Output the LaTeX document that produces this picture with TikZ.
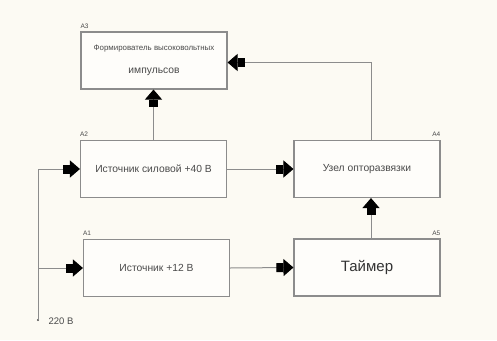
\documentclass[tikz,border=0pt]{standalone}
\usepackage{fontspec}
\setmainfont{Liberation Sans}
\usetikzlibrary{arrows.meta}
\definecolor{paper}{HTML}{FCFAF3}
\definecolor{edge}{HTML}{8C8C8C}
\definecolor{ink}{HTML}{4A4A4A}
\tikzset{
  blok/.style={draw=edge, line width=1.1pt, fill=white!60!paper, text=ink,
    minimum width=146pt, minimum height=57pt, inner sep=2pt, align=center,
    font=\fontsize{10.3}{12}\selectfont},
  tag/.style={text=ink, inner sep=0pt, font=\fontsize{6.5}{7}\selectfont},
  conn/.style={draw=edge, line width=1pt,
    -{Rectangle[length=7pt,width=9pt,color=black]Triangle[length=10pt,width=17pt,color=black]}},
  wire/.style={draw=edge, line width=1pt}
}
\begin{document}
\begin{tikzpicture}[x=1pt,y=-1pt]
\fill[paper] (0,0) rectangle (497,340);
\useasboundingbox (0,0) rectangle (497,340);

% blocks
\node[blok] (a3) at (154,60.5) {{\fontsize{7.9}{9}\selectfont Формирователь высоковольтных}\\[9pt]\raisebox{-2pt}{импульсов}};
\node[blok] (a2) at (153.5,169) {Источник силовой +40 В};
\node[blok] (a4) at (367,169) {Узел опторазвязки};
\node[blok] (a1) at (156.5,268) {Источник +12 В};
\node[blok, font=\fontsize{15}{17}\selectfont, text=black!80] (a5) at (367,267.5) {Таймер};

% block numbers
\node[tag, anchor=south west] (n3) at (a3.north west) [yshift=3pt] {A3};
\node[tag, anchor=south west] (n2) at (a2.north west) [yshift=3pt] {A2};
\node[tag, anchor=south west] (n1) at (a1.north west) [yshift=3pt] {A1};
\node[tag, anchor=south east] (n4) at (a4.north east) [yshift=3pt] {A4};
\node[tag, anchor=south east] (n5) at (a5.north east) [yshift=3pt] {A5};

% mains input
\coordinate (p) at (38,320);
\fill[ink] (p) circle (1.2pt);
\node[text=ink, anchor=west, font=\fontsize{9.5}{11}\selectfont] (v) at (45,321) {220 В};
\coordinate (q2) at (p |- a2.west);
\coordinate (q1) at (p |- a1.west);
\draw[wire] (p) -- (q2);
\draw[conn] (q2) -- (a2.west);
\draw[conn] (q1) -- (a1.west);

% links
\draw[conn] (a2.north) -- (a2.north |- a3.south);
\draw[conn] (a2.east) -- (a4.west);
\draw[conn] (a1.east) -- (a5.west);
\draw[conn] ([xshift=4pt]a5.north) -- ([xshift=4pt]a4.south);
\draw[conn] ([xshift=4pt]a4.north) |- ([yshift=-2pt]a3.east);
\end{tikzpicture}
\end{document}
